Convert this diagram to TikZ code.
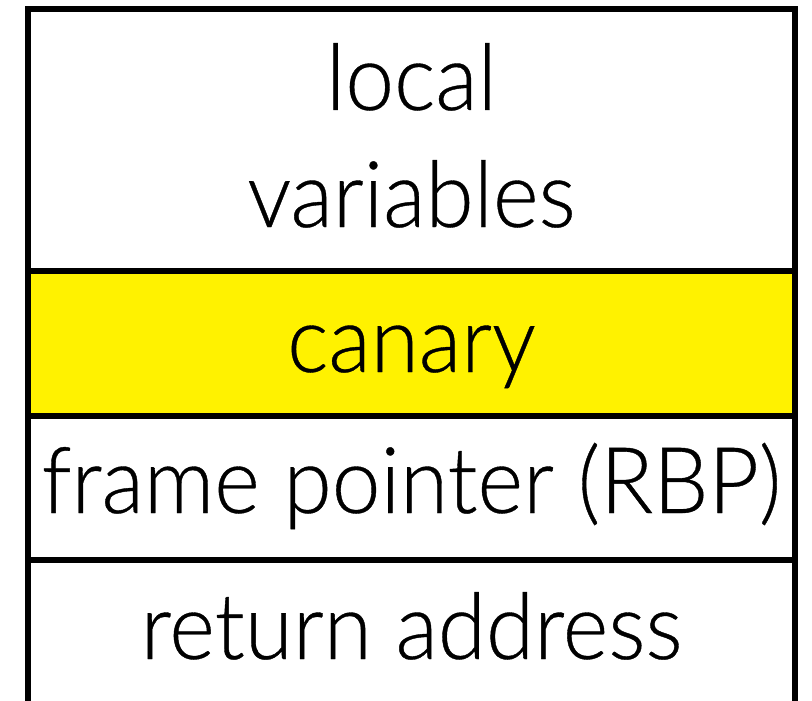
\documentclass[tikz,border=0pt]{standalone}
\usepackage{fontspec}
\setmainfont{Lato Light}[FakeStretch=0.95, FakeBold=0.4]
\begin{document}
\begin{tikzpicture}[x=1pt,y=-1pt,
  cell/.style={draw=black, line width=6pt, minimum width=767pt,
    inner sep=0pt, outer sep=0pt, anchor=north west},
  lbl/.style={anchor=base, inner sep=0pt, outer sep=0pt,
    font=\fontsize{92}{110}\selectfont}]
\useasboundingbox (0,0) rectangle (812,701);
\clip (0,0) rectangle (812,701);
% stack frame cells, top to bottom
\node[cell, minimum height=262pt] (locals) at (28,9) {};
\node[cell, minimum height=145pt, fill=yellow] (canary) at (28,271) {};
\node[cell, minimum height=144pt] (rbp) at (28,416) {};
\node[cell, minimum height=180pt] (ret) at (28,560) {};
% cell labels
\node[lbl] (tlocal) at (411.5,110) {local};
\node[lbl] (tvars) at (411.5,227) {variables};
\node[lbl] (tcanary) at (411.5,372) {canary};
\node[lbl] (trbp) at (411.5,513) {frame pointer (RBP)};
\node[lbl] (tret) at (411.5,659) {return address};
\end{tikzpicture}
\end{document}
